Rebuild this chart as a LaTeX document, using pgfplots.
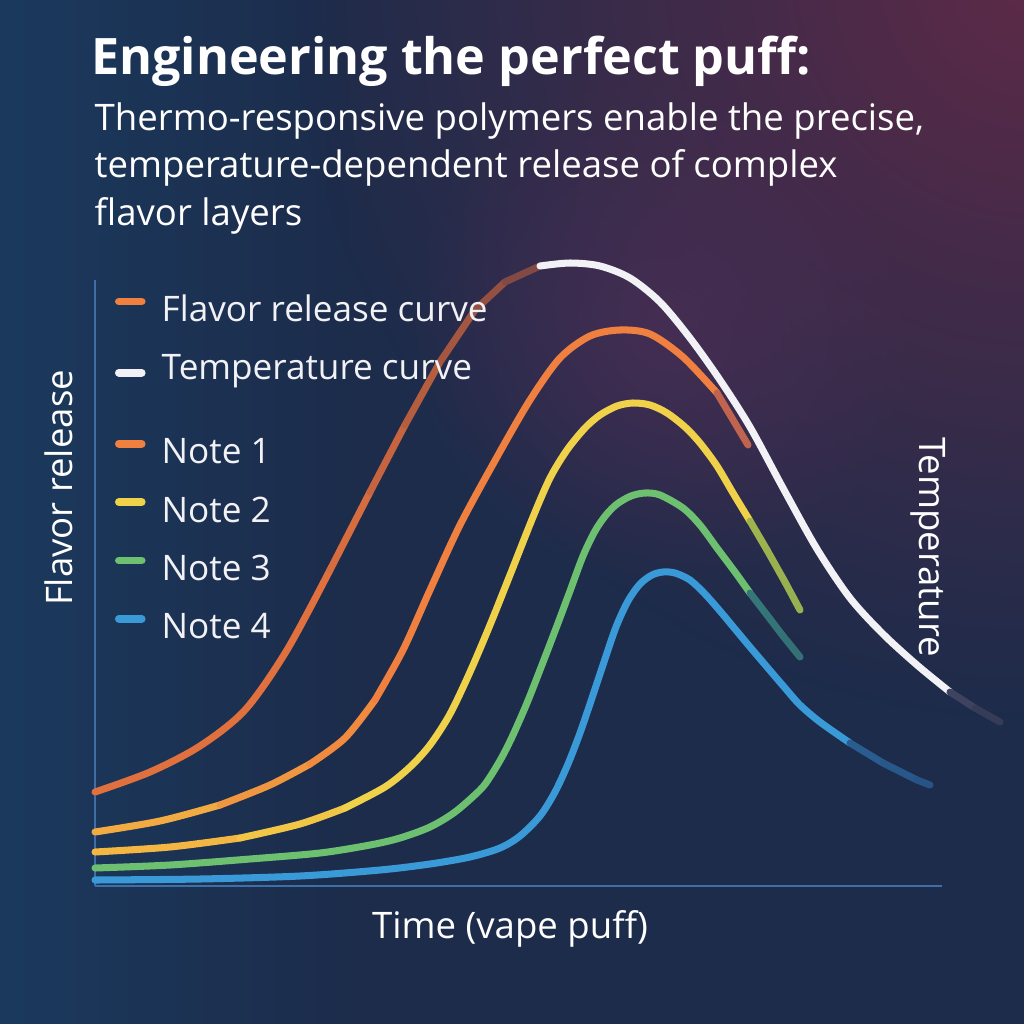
\documentclass[border=0pt]{standalone}
\usepackage{pgfplots}
\usepackage{pgfplotstable}
\pgfplotsset{compat=1.18}
\usetikzlibrary{fadings}
\usepackage{fontspec}
\setmainfont{Open Sans}

\definecolor{bgbase}{HTML}{1D2C4B}
\definecolor{bgblue}{HTML}{1B3A5E}
\definecolor{bgmaroon}{HTML}{5E2A48}
\definecolor{glowc}{HTML}{55305A}
\definecolor{axcol}{HTML}{3F6EA8}
\definecolor{corange}{RGB}{240,128,63}
\definecolor{cgoldA}{RGB}{242,170,66}
\definecolor{cgoldB}{RGB}{241,150,64}
\definecolor{cgoldC}{RGB}{240,138,63}
\definecolor{cyellow}{RGB}{239,210,74}
\definecolor{cyelA}{RGB}{243,182,67}
\definecolor{cyelB}{RGB}{241,198,70}
\definecolor{cgreen}{RGB}{108,192,112}
\definecolor{cblue}{RGB}{58,154,216}
\definecolor{cwhite}{RGB}{242,242,246}
\definecolor{cflav}{RGB}{224,112,62}

\tikzfading[name=radglow, inner color=transparent!0, outer color=transparent!100]
\tikzfading[name=fadeRight, left color=transparent!0, right color=transparent!100]

\pgfplotsset{
  colormap={outerA}{rgb255(235pt)=(224,112,62) rgb255(275pt)=(165,86,64) rgb255(310pt)=(105,64,72) rgb255(345pt)=(78,66,90) rgb255(380pt)=(100,100,128) rgb255(410pt)=(170,170,186) rgb255(445pt)=(242,242,246)},
  colormap={outerB}{rgb255(855pt)=(228,228,235) rgb255(880pt)=(155,157,176) rgb255(905pt)=(50,55,85)},
  colormap={oneB}{rgb255(622pt)=(226,110,62) rgb255(653pt)=(170,92,90)},
  colormap={twoB}{rgb255(655pt)=(232,208,72) rgb255(672pt)=(200,200,70) rgb255(690pt)=(150,175,80) rgb255(705pt)=(80,110,85)},
  colormap={threeB}{rgb255(655pt)=(98,183,116) rgb255(672pt)=(72,152,124) rgb255(688pt)=(52,117,120) rgb255(705pt)=(40,75,100)},
  colormap={fourB}{rgb255(755pt)=(56,148,208) rgb255(788pt)=(48,118,175) rgb255(822pt)=(40,90,140) rgb255(835pt)=(35,70,115)},
}

% x = time (px from axis origin), y = height above baseline
\pgfplotstableread{
x y
0 94
55 114
105 140
150 176
192 236
235 316
275 394
310 461
345 524
380 576
410 604
445 620
475 623
505 620
535 608
565 584
595 548
625 506
655 459
688 398
722 337
755 288
788 252
822 221
855 194
880 178
905 164
}\outercurve

\pgfplotstableread{
x y
0 54
65 65
125 81
175 101
215 122
250 148
280 186
308 236
335 296
365 361
402 429
435 486
465 528
495 550
525 556
555 552
588 529
622 493
653 441
}\noteone

\pgfplotstableread{
x y
0 34
75 39
145 48
205 62
250 78
290 99
315 119
335 141
355 172
375 214
395 261
415 311
438 369
455 408
472 436
490 458
505 471
522 480
538 483
555 481
572 473
590 459
605 443
622 420
638 393
655 365
672 336
690 304
705 276
}\notetwo

\pgfplotstableread{
x y
0 18
75 21
155 27
225 33
275 41
305 48
335 59
360 74
385 96
395 109
407 129
418 151
432 183
445 216
460 255
475 295
488 330
500 355
511 371
522 382
536 390
550 393
565 391
588 378
605 361
622 338
640 314
655 293
672 271
688 250
705 229
}\notethree

\pgfplotstableread{
x y
0 6
105 7
205 10
285 16
335 22
375 29
405 38
425 50
445 70
460 94
473 122
485 153
497 188
509 224
521 259
533 285
545 302
557 311
568 314
580 313
595 306
610 292
625 275
640 257
655 239
672 219
690 198
705 181
725 164
755 143
788 123
822 106
835 101
}\notefour

\begin{document}
\begin{tikzpicture}
\useasboundingbox (0,0) rectangle (10.24,-10.24);
% background
\fill[bgbase] (0,0) rectangle (10.24,-10.24);
\fill[bgblue, path fading=fadeRight] (0,0) rectangle (3.5,-10.24);
\fill[bgmaroon, path fading=radglow] (10.4,0.3) circle (7.5);
\fill[glowc, opacity=0.55, path fading=radglow] (6.6,-3.3) circle (2.6);

\begin{axis}[
  at={(0.95cm,-8.86cm)}, anchor=south west,
  scale only axis, width=8.47cm, height=6.06cm,
  xmin=0, xmax=847, ymin=0, ymax=606,
  clip=false,
  axis x line*=bottom, axis y line*=left,
  axis line style={draw=axcol, line width=0.7pt, -},
  xtick=\empty, ytick=\empty,
  legend cell align=left,
  legend style={draw=none, fill=none, at={(axis description cs:0.0236,0.9754)},
    anchor=north west, inner sep=0pt, outer sep=0pt, row sep=6.6pt, column sep=4.6pt,
    font=\fontsize{10}{12}\selectfont, text=cwhite,
    nodes={inner sep=0pt, text height=7.6pt, text depth=2.4pt}},
  legend image code/.code={\draw[#1, line width=2.2pt, line cap=round] (0pt,3.1pt) -- (6.5pt,3.1pt);},
  every axis plot/.append style={line width=2pt, line cap=round, line join=round},
  meshstyle/.style={mesh, point meta=x, forget plot},
]
% flavour release / temperature curve
\addplot[forget plot, cflav, smooth, restrict x to domain=0:235] table {\outercurve};
\addplot[meshstyle, colormap name=outerA, point meta min=235, point meta max=445, restrict x to domain=235:445] table {\outercurve};
\addplot[forget plot, cwhite, smooth, restrict x to domain=445:855] table {\outercurve};
\addplot[meshstyle, colormap name=outerB, point meta min=855, point meta max=905, restrict x to domain=855:905] table {\outercurve};
% note 1
\addplot[forget plot, cgoldA, smooth, restrict x to domain=0:125] table {\noteone};
\addplot[forget plot, cgoldB, smooth, restrict x to domain=125:215] table {\noteone};
\addplot[forget plot, cgoldC, smooth, restrict x to domain=215:280] table {\noteone};
\addplot[forget plot, corange, smooth, restrict x to domain=280:622] table {\noteone};
\addplot[meshstyle, colormap name=oneB, point meta min=622, point meta max=653, restrict x to domain=622:653] table {\noteone};
% note 2
\addplot[forget plot, cyelA, smooth, restrict x to domain=0:145] table {\notetwo};
\addplot[forget plot, cyelB, smooth, restrict x to domain=145:250] table {\notetwo};
\addplot[forget plot, cyellow, smooth, restrict x to domain=250:655] table {\notetwo};
\addplot[meshstyle, colormap name=twoB, point meta min=655, point meta max=705, restrict x to domain=655:705] table {\notetwo};
% note 3
\addplot[forget plot, cgreen, smooth, restrict x to domain=0:655] table {\notethree};
\addplot[meshstyle, colormap name=threeB, point meta min=655, point meta max=705, restrict x to domain=655:705] table {\notethree};
% note 4
\addplot[forget plot, cblue, smooth, restrict x to domain=0:755] table {\notefour};
\addplot[meshstyle, colormap name=fourB, point meta min=755, point meta max=835, restrict x to domain=755:835] table {\notefour};

\addlegendimage{draw=corange}
\addlegendentry{Flavor release curve}
\addlegendimage{draw=cwhite}
\addlegendentry[text depth=9.65pt]{Temperature curve}
\addlegendimage{draw=corange}
\addlegendentry{Note 1}
\addlegendimage{draw=cyellow}
\addlegendentry{Note 2}
\addlegendimage{draw=cgreen}
\addlegendentry{Note 3}
\addlegendimage{draw=cblue}
\addlegendentry{Note 4}
\end{axis}

% titles and labels
\node[anchor=base west, inner sep=0pt, text=white, font=\fontsize{14.3}{17}\selectfont\bfseries] at (0.905,-0.74) {Engineering the perfect puff:};
\node[anchor=base west, inner sep=0pt, text=white, font=\fontsize{10.4}{13}\selectfont] at (0.94,-1.30) {Thermo-responsive polymers enable the precise,};
\node[anchor=base west, inner sep=0pt, text=white, font=\fontsize{10.4}{13}\selectfont] at (0.94,-1.77) {temperature-dependent release of complex};
\node[anchor=base west, inner sep=0pt, text=white, font=\fontsize{10.4}{13}\selectfont] at (0.94,-2.25) {flavor layers};

\node[anchor=base, inner sep=0pt, text=white, font=\fontsize{10.4}{13}\selectfont] at (5.10,-9.38) {Time (vape puff)};
\node[rotate=90, anchor=base, inner sep=0pt, text=white, font=\fontsize{10.4}{13}\selectfont] at (0.72,-4.88) {Flavor release};
\node[rotate=-90, anchor=base, inner sep=0pt, text=white, font=\fontsize{10.4}{13}\selectfont] at (9.19,-5.47) {Temperature};
\end{tikzpicture}
\end{document}
